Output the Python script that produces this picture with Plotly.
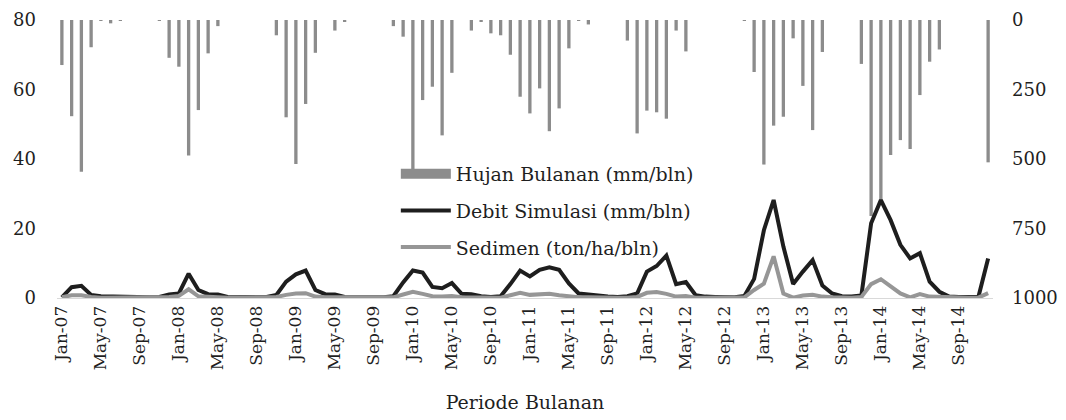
import plotly.graph_objects as go

years = ["07", "08", "09", "10", "11", "12", "13", "14"]
months = ["Jan", "Feb", "Mar", "Apr", "May", "Jun", "Jul", "Aug", "Sep", "Oct", "Nov", "Dec"]
periods = [f"{m}-{y}" for y in years for m in months]

hujan = [
    162, 346, 546, 98, 3, 12, 2, 0, 0, 0, 2, 136,
    168, 487, 324, 120, 22, 0, 0, 0, 0, 0, 55, 350,
    518, 302, 118, 0, 38, 5, 0, 0, 0, 0, 22, 60,
    545, 288, 240, 415, 190, 0, 38, 5, 48, 55, 125, 276,
    336, 246, 400, 318, 102, 3, 16, 0, 0, 0, 74, 408,
    326, 332, 355, 38, 113, 0, 0, 0, 0, 0, 3, 187,
    520, 380, 348, 66, 237, 396, 115, 0, 0, 0, 158, 705,
    650, 486, 432, 464, 270, 150, 106, 0, 0, 0, 0, 512,
]

debit = [
    0.2, 3.1, 3.5, 0.9, 0.5, 0.4, 0.3, 0.2, 0.2, 0.2, 0.3, 1.0,
    1.3, 7.0, 2.3, 1.1, 1.0, 0.3, 0.2, 0.2, 0.2, 0.3, 0.9, 4.7,
    6.8, 7.9, 2.3, 1.1, 1.0, 0.3, 0.2, 0.2, 0.2, 0.2, 0.5, 4.5,
    7.9, 7.3, 3.2, 2.8, 4.3, 1.2, 1.1, 0.5, 0.3, 0.5, 4.0, 7.9,
    6.2, 8.1, 8.8, 8.1, 4.2, 1.3, 1.0, 0.6, 0.4, 0.3, 0.5, 1.3,
    7.6, 9.2, 12.2, 4.0, 4.6, 0.8, 0.4, 0.3, 0.2, 0.2, 0.6, 5.5,
    19.5, 28.2, 14.8, 4.0, 7.6, 10.9, 3.6, 1.3, 0.5, 0.4, 0.7, 21.5,
    28.2, 22.4, 15.3, 11.4, 12.9, 4.7, 1.8, 0.4, 0.3, 0.3, 0.3, 11.4,
]

sedimen = [
    0.2, 0.8, 0.8, 0.3, 0.1, 0.1, 0.1, 0.1, 0.1, 0.1, 0.1, 0.3,
    0.6, 2.5, 0.5, 0.3, 0.2, 0.1, 0.1, 0.1, 0.1, 0.1, 0.3, 0.9,
    1.3, 1.4, 0.4, 0.2, 0.2, 0.1, 0.1, 0.1, 0.1, 0.1, 0.2, 1.0,
    1.8, 1.2, 0.5, 0.4, 0.6, 0.2, 0.2, 0.1, 0.1, 0.1, 0.8, 1.5,
    0.9, 1.1, 1.2, 0.8, 0.4, 0.2, 0.2, 0.1, 0.1, 0.1, 0.1, 0.3,
    1.5, 1.7, 1.2, 0.4, 0.6, 0.1, 0.1, 0.1, 0.1, 0.1, 0.2, 2.3,
    4.1, 12.0, 1.3, 0.1, 0.7, 0.9, 0.4, 0.2, 0.1, 0.1, 0.3, 4.0,
    5.4, 3.3, 1.3, 0.2, 1.1, 0.4, 0.3, 0.1, 0.1, 0.1, 0.1, 1.4,
]

FONT = "DejaVu Serif"
TXT = "#1f1f1f"
BAR = "#8c8c8c"

fig = go.Figure()
fig.add_trace(go.Bar(
    x=periods, y=hujan, name="Hujan Bulanan (mm/bln)",
    marker=dict(color=BAR, line=dict(width=0)),
    yaxis="y", showlegend=False,
))
# legend-only entry giving the wide rectangular swatch of the rainfall bars
fig.add_trace(go.Scatter(
    x=[None], y=[None], name="Hujan Bulanan (mm/bln)", mode="lines",
    line=dict(color=BAR, width=12), yaxis="y", legendgroup="a",
))
fig.add_trace(go.Scatter(
    x=periods, y=debit, name="Debit Simulasi (mm/bln)", mode="lines",
    line=dict(color="#1e1e1e", width=4), yaxis="y2", legendgroup="b",
))
fig.add_trace(go.Scatter(
    x=periods, y=sedimen, name="Sedimen (ton/ha/bln)", mode="lines",
    line=dict(color="#969696", width=4), yaxis="y2", legendgroup="c",
))

fig.update_layout(
    width=1066, height=420,
    margin=dict(l=57, r=73, t=20, b=122),
    paper_bgcolor="white", plot_bgcolor="rgba(0,0,0,0)",
    font=dict(family=FONT, size=17, color=TXT),
    bargap=0.66,
    showlegend=True,
    legend=dict(
        x=0.362, y=0.515, xanchor="left", yanchor="top",
        bgcolor="rgba(0,0,0,0)", itemwidth=50,
        traceorder="grouped", tracegroupgap=9,
        font=dict(family=FONT, size=19, color=TXT),
    ),
    xaxis=dict(
        type="category", tickangle=-90, tickmode="linear", tick0=0, dtick=4,
        showgrid=False, showline=True, linecolor="#d9d9d9", linewidth=1,
        ticks="", automargin=False,
        tickfont=dict(family=FONT, size=17, color=TXT),
        title=dict(text="Periode Bulanan", font=dict(family=FONT, size=19, color=TXT), standoff=26),
        range=[-0.5, 95.5],
    ),
    yaxis=dict(
        side="right", range=[1000, 0], tickvals=[0, 250, 500, 750, 1000],
        showgrid=False, zeroline=False, showline=False, ticks="",
        automargin=False, ticklabelstandoff=18,
        tickfont=dict(family=FONT, size=18, color=TXT),
    ),
    yaxis2=dict(
        overlaying="y", side="left", range=[0, 80], tickvals=[0, 20, 40, 60, 80],
        showgrid=False, zeroline=False, showline=False, ticks="",
        automargin=False, ticklabelstandoff=20,
        tickfont=dict(family=FONT, size=18, color=TXT),
    ),
)

fig.write_html(
    "out.html",
    config={"displayModeBar": False},
    post_script="document.body.style.margin='0';",
)
